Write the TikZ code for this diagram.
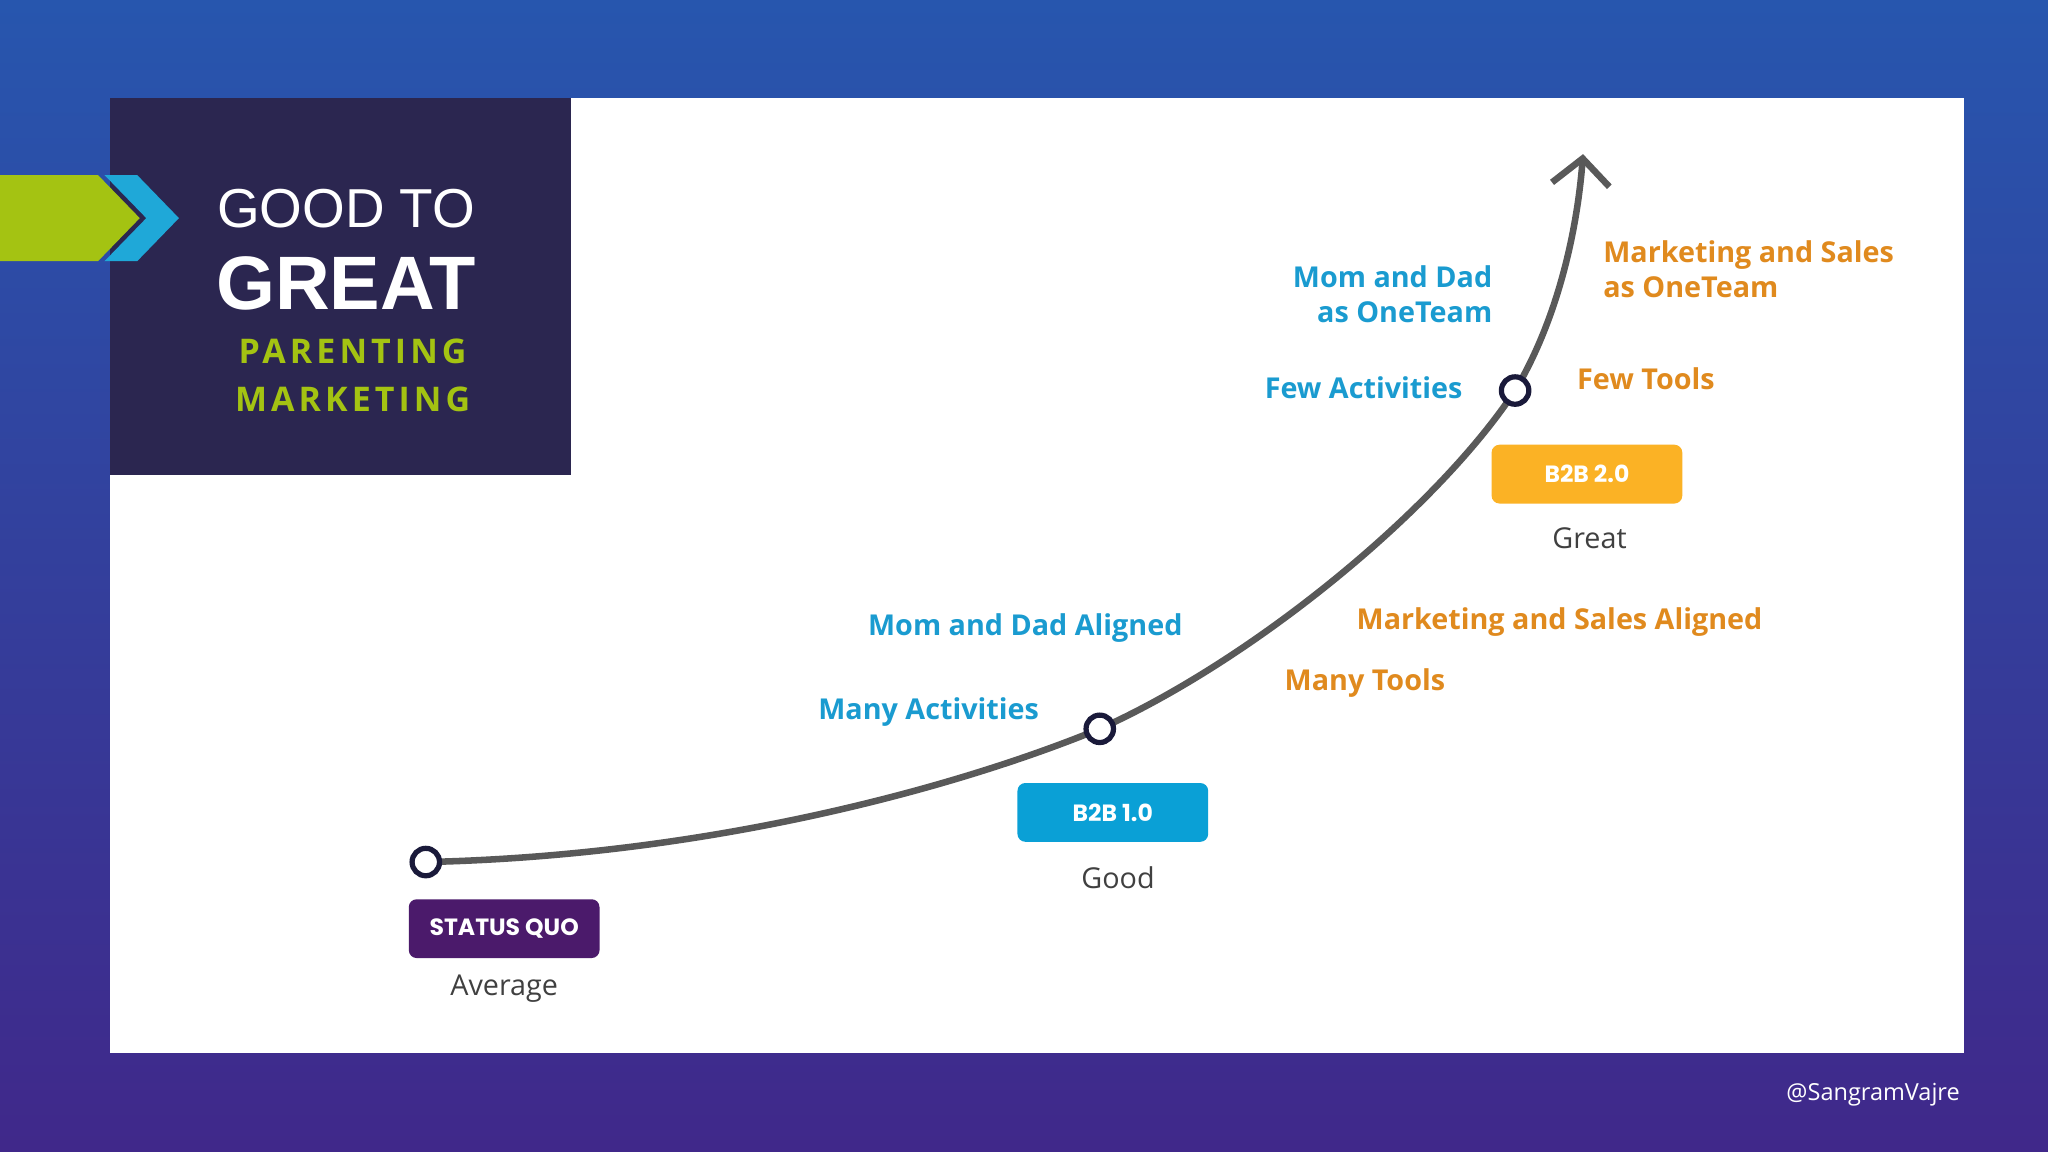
\documentclass[tikz,border=0pt]{standalone}
\usepackage{fontspec}
\setmainfont{Open Sans}
\newfontfamily\pop{Poppins}
\newfontfamily\ari{Liberation Sans}
\usetikzlibrary{arrows.meta}
\definecolor{bgtop}{HTML}{2756AE}
\definecolor{bgbot}{HTML}{40288A}
\definecolor{darkbox}{HTML}{2B2650}
\definecolor{lime}{HTML}{A4C312}
\definecolor{cyanc}{HTML}{1FA8D8}
\definecolor{bluet}{HTML}{1A9BD0}
\definecolor{orat}{HTML}{E08A1E}
\definecolor{sq}{HTML}{4B1A6B}
\definecolor{b1}{HTML}{0AA0D6}
\definecolor{b2}{HTML}{FBB225}
\definecolor{navy}{HTML}{1A1A3A}
\begin{document}
\begin{tikzpicture}[x=1pt,y=-1pt,
  bl/.style={text=bluet,font=\fontsize{22}{27}\selectfont\bfseries},
  ol/.style={text=orat,font=\fontsize{22}{27}\selectfont\bfseries},
  tag/.style={rounded corners=6pt,minimum width=146pt,minimum height=45pt,text=white,font=\pop\fontsize{18}{20}\selectfont\bfseries},
  sub/.style={text=black!75,font=\fontsize{22}{26}\selectfont},
  dot/.style={circle,draw=navy,line width=4pt,fill=white,minimum size=21pt,inner sep=0pt}]
\useasboundingbox (0,0) rectangle (1568,882);
\shade[top color=bgtop,bottom color=bgbot] (0,0) rectangle (1568,882);
\fill[white] (84,75) rectangle (1504,806);
\fill[darkbox] (84,75) rectangle (437,364);
\fill[cyanc] (80,134)--(105,134)--(137,167)--(105,200)--(80,200)--(112,167)--cycle;
\fill[lime] (0,134)--(75,134)--(107,167)--(75,200)--(0,200)--cycle;
\node[text=white,font=\ari\fontsize{42}{46}\selectfont] (t1) at (265,160) {GOOD TO};
\node[text=white,font=\ari\fontsize{58}{62}\selectfont\bfseries] (t2) at (265,217) {GREAT};
\node[text=lime,font=\fontsize{26}{30}\selectfont\bfseries] (t3) at (270,269) {\addfontfeatures{LetterSpace=12}PARENTING};
\node[text=lime,font=\fontsize{26}{30}\selectfont\bfseries] (t4) at (270,306) {\addfontfeatures{LetterSpace=12}MARKETING};
\coordinate (p0) at (326,660);
\coordinate (p1) at (842,558);
\coordinate (p2) at (1160,299);
\coordinate (p3) at (1212,118);
\draw[line width=5pt,black!65,-{Straight Barb[length=20pt,width=44pt,line width=5pt]}]
  (p0) .. controls (550,655) and (740,600) .. (p1)
  .. controls (960,505) and (1100,390) .. (p2)
  .. controls (1195,240) and (1208,170) .. (p3);
\node[dot] (d0) at (p0) {};
\node[dot] (d1) at (p1) {};
\node[dot] (d2) at (p2) {};
\node[tag,fill=sq] (s0) at (386,711) {STATUS QUO};
\node[sub] (a0) at (386,757) {Average};
\node[tag,fill=b1] (s1) at (852,622) {B2B 1.0};
\node[sub] (a1) at (856,672) {Good};
\node[tag,fill=b2] (s2) at (1215,363) {B2B 2.0};
\node[sub] (a2) at (1217,412) {Great};
\node[bl] (m1) at (785,481) {Mom and Dad Aligned};
\node[bl] (m2) at (711,545) {Many Activities};
\node[bl,align=right,anchor=east] (m3) at (1146,225) {Mom and Dad\\as OneTeam};
\node[bl] (m4) at (1044,297) {Few Activities};
\node[ol,align=left,anchor=west] (o1) at (1224,206) {Marketing and Sales\\as OneTeam};
\node[ol,anchor=west] (o2) at (1204,290) {Few Tools};
\node[ol] (o3) at (1194,476) {Marketing and Sales Aligned};
\node[ol] (o4) at (1045,523) {Many Tools};
\node[text=white,anchor=east,font=\fontsize{18}{22}\selectfont] (h) at (1504,838) {@SangramVajre};
\end{tikzpicture}
\end{document}
